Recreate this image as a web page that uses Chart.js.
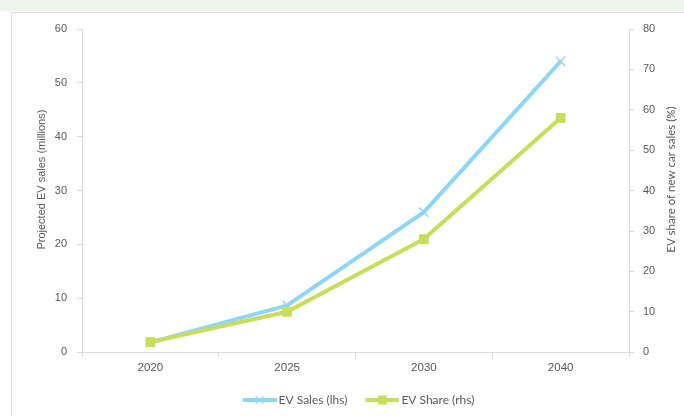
<!DOCTYPE html>
<html>
<head>
<meta charset="utf-8">
<script src="https://cdn.jsdelivr.net/npm/chart.js@4.4.1/dist/chart.umd.min.js"></script>
<style>
  html, body { margin: 0; padding: 0; background: #ffffff; }
  #wrap { position: relative; width: 684px; height: 416px; }
  canvas { display: block; }
</style>
</head>
<body>
<div id="wrap"><canvas id="c" width="684" height="416"></canvas></div>
<script>
// Projected EV sales and share of new car sales
const years = ['2020', '2025', '2030', '2040'];
const evSales = [1.8, 8.7, 26, 54];     // millions (left axis)
const evShare = [2.5, 10, 28, 58];      // % of new car sales (right axis)
const leftTicks = [0, 10, 20, 30, 40, 50, 60];
const rightTicks = [0, 10, 20, 30, 40, 50, 60, 70, 80];
const leftTitle = 'Projected EV sales (millions)';
const rightTitle = 'EV share of new car sales (%)';

const BLUE = '#8fd6f5';
const GREEN = '#cadc5c';
const AXIS = '#d9d9d9';
const TEXT = '#595959';
const TICKFONT = '"Liberation Sans", Arial, sans-serif';
const ROUND = 'Lato, "Open Sans", sans-serif';

// Legend symbol: a short line with the series marker, drawn at the right end
// of a wider transparent canvas so it sits close to the label text
function legendSymbol(color, marker) {
  const c = document.createElement('canvas');
  c.width = 44; c.height = 12;
  const g = c.getContext('2d');
  const x0 = 10;
  g.strokeStyle = color;
  g.lineWidth = 4;
  g.beginPath(); g.moveTo(x0, 6); g.lineTo(x0 + 34, 6); g.stroke();
  if (marker === 'rect') {
    g.fillStyle = color;
    g.fillRect(x0 + 12.5, 1.5, 9, 9);
  } else {
    g.lineWidth = 1.2;
    g.beginPath();
    g.moveTo(x0 + 13, 2); g.lineTo(x0 + 21, 10);
    g.moveTo(x0 + 21, 2); g.lineTo(x0 + 13, 10);
    g.stroke();
  }
  return c;
}

// Page frame: pale green band and thin panel border
const framePlugin = {
  id: 'frame',
  beforeDraw(chart) {
    const ctx = chart.ctx;
    ctx.save();
    ctx.fillStyle = '#eef5ec';
    ctx.fillRect(0, 0, chart.width, 11.5);
    ctx.strokeStyle = '#dcdcdc';
    ctx.lineWidth = 1;
    ctx.beginPath();
    ctx.moveTo(11.5, 12.5); ctx.lineTo(chart.width, 12.5);
    ctx.moveTo(11.5, 12.5); ctx.lineTo(11.5, chart.height);
    ctx.stroke();
    ctx.restore();
  }
};

// Center the legend under the plot area rather than the whole canvas
const legendPlacePlugin = {
  id: 'legendPlace',
  afterLayout(chart) {
    const lg = chart.legend;
    if (!lg) return;
    lg.left = chart.chartArea.left;
    lg.right = chart.chartArea.right;
    lg.top += 3;
    lg.bottom += 3;
  }
};

// Axis titles, both reading bottom-to-top
const axisTitlePlugin = {
  id: 'axisTitles',
  afterDraw(chart) {
    const ctx = chart.ctx;
    const midY = chart.chartArea.top + (chart.chartArea.bottom - chart.chartArea.top) / 2 - 11;
    ctx.save();
    ctx.fillStyle = TEXT;
    ctx.textAlign = 'center';
    ctx.textBaseline = 'middle';
    ctx.translate(42, midY);
    ctx.rotate(-Math.PI / 2);
    ctx.font = '11px ' + TICKFONT;
    ctx.fillText(leftTitle, 0, 0);
    ctx.restore();
    ctx.save();
    ctx.fillStyle = TEXT;
    ctx.textAlign = 'center';
    ctx.textBaseline = 'middle';
    ctx.translate(671, midY);
    ctx.rotate(-Math.PI / 2);
    ctx.font = '11.5px ' + ROUND;
    ctx.fillText(rightTitle, 0, 0);
    ctx.restore();
  }
};

new Chart(document.getElementById('c'), {
  type: 'line',
  data: {
    labels: years,
    datasets: [
      {
        label: 'EV Sales (lhs)',
        data: evSales,
        yAxisID: 'y',
        borderColor: BLUE,
        backgroundColor: BLUE,
        borderWidth: 4,
        pointStyle: 'crossRot',
        pointRadius: 6.5,
        pointBorderWidth: 1.5,
        tension: 0,
        order: 1
      },
      {
        label: 'EV Share (rhs)',
        data: evShare,
        yAxisID: 'y2',
        borderColor: GREEN,
        backgroundColor: GREEN,
        borderWidth: 4,
        pointStyle: 'rect',
        pointRadius: 6.2,
        pointBorderWidth: 1,
        tension: 0,
        order: 0
      }
    ]
  },
  options: {
    responsive: false,
    animation: false,
    layout: { padding: { top: 29, bottom: 3, left: 0, right: 0 } },
    plugins: {
      tooltip: { enabled: false },
      legend: {
        position: 'bottom',
        labels: {
          usePointStyle: true,
          pointStyleWidth: 36,
          padding: 12,
          color: TEXT,
          font: { family: ROUND, size: 12 },
          generateLabels() {
            return [
              { text: 'EV Sales (lhs)', pointStyle: legendSymbol(BLUE, 'cross'), fillStyle: BLUE, strokeStyle: BLUE, lineWidth: 0, datasetIndex: 0, fontColor: TEXT },
              { text: 'EV Share (rhs)', pointStyle: legendSymbol(GREEN, 'rect'), fillStyle: GREEN, strokeStyle: GREEN, lineWidth: 0, datasetIndex: 1, fontColor: TEXT }
            ];
          }
        }
      }
    },
    scales: {
      x: {
        type: 'category',
        offset: true,
        grid: { offset: true, drawOnChartArea: false, drawTicks: true, tickLength: 5, color: AXIS },
        border: { color: AXIS, width: 1 },
        ticks: { color: TEXT, font: { family: TICKFONT, size: 11.5 }, padding: 4, maxRotation: 0 }
      },
      y: {
        position: 'left',
        min: 0, max: 60,
        afterBuildTicks(scale) { scale.ticks = leftTicks.map(v => ({ value: v })); },
        afterFit(scale) { scale.width = 82; },
        grid: { drawOnChartArea: false, drawTicks: true, tickLength: 5, color: AXIS },
        border: { color: AXIS, width: 1 },
        ticks: { color: TEXT, font: { family: TICKFONT, size: 11 }, padding: 10 }
      },
      y2: {
        position: 'right',
        min: 0, max: 80,
        afterBuildTicks(scale) { scale.ticks = rightTicks.map(v => ({ value: v })); },
        afterFit(scale) { scale.width = 55; },
        grid: { drawOnChartArea: false, drawTicks: true, tickLength: 5, color: AXIS },
        border: { color: AXIS, width: 1 },
        ticks: { color: TEXT, font: { family: TICKFONT, size: 11 }, padding: 9 }
      }
    }
  },
  plugins: [framePlugin, legendPlacePlugin, axisTitlePlugin]
});
</script>
</body>
</html>
